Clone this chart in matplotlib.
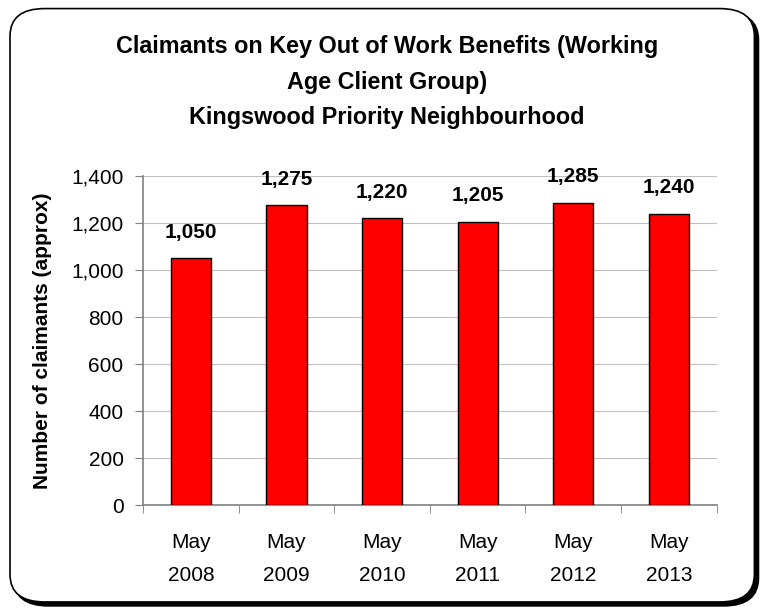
import numpy as np
import matplotlib.pyplot as plt
from matplotlib.patches import FancyBboxPatch

plt.rcParams['font.family'] = ['Liberation Sans', 'DejaVu Sans']

categories = ["May\n2008", "May\n2009", "May\n2010", "May\n2011", "May\n2012", "May\n2013"]
claimants = [1050, 1275, 1220, 1205, 1285, 1240]
y_ticks = [0, 200, 400, 600, 800, 1000, 1200, 1400]

fig = plt.figure(figsize=(7.69, 6.13), dpi=100)

# rounded frame with shadow
shadow = FancyBboxPatch((0.018, 0.012), 0.968, 0.968,
                        boxstyle="round,pad=0,rounding_size=0.045",
                        transform=fig.transFigure, facecolor="black",
                        edgecolor="black", lw=1.5, zorder=0)
frame = FancyBboxPatch((0.013, 0.018), 0.968, 0.968,
                       boxstyle="round,pad=0,rounding_size=0.045",
                       transform=fig.transFigure, facecolor="white",
                       edgecolor="black", lw=1.2, zorder=1)
fig.patches.extend([shadow, frame])

ax = fig.add_axes([0.186, 0.176, 0.746, 0.537])
ax.set_zorder(2)
ax.patch.set_alpha(0)

x = np.arange(len(categories))
bars = ax.bar(x, claimants, width=0.42, color="#ff0000", edgecolor="black",
              linewidth=1.0, zorder=3)

for xi, v in zip(x, claimants):
    ax.annotate(f"{v:,}", (xi, v), xytext=(0, 12), textcoords="offset points",
                ha="center", va="bottom", fontsize=15, fontweight="bold")

ax.set_xlim(-0.5, len(categories) - 0.5)
ax.set_ylim(0, 1400)
ax.set_yticks(y_ticks)
ax.set_yticklabels([f"{t:,}" for t in y_ticks], fontsize=15)
ax.yaxis.grid(True, color="#c0c0c0", linewidth=0.8, zorder=0)
ax.set_axisbelow(True)

ax.set_xticks(x)
ax.set_xticklabels(categories, fontsize=15, linespacing=1.95)
ax.set_xticks(np.arange(len(categories) + 1) - 0.5, minor=True)
ax.tick_params(axis="x", which="major", length=0, pad=20)
ax.tick_params(axis="x", which="minor", length=6, color="#808080")
ax.tick_params(axis="y", length=6, color="#808080", pad=8)

for s in ["top", "right"]:
    ax.spines[s].set_visible(False)
for s in ["left", "bottom"]:
    ax.spines[s].set_color("#808080")
    ax.spines[s].set_linewidth(1.2)

ax.set_ylabel("Number of claimants (approx)", fontsize=15, fontweight="bold",
              labelpad=14)

fig.text(0.503, 0.943,
         "Claimants on Key Out of Work Benefits (Working\nAge Client Group)\nKingswood Priority Neighbourhood",
         ha="center", va="top", fontsize=16.8, fontweight="bold", linespacing=1.7,
         zorder=3)

plt.savefig("out.png", dpi=100)
plt.close()
